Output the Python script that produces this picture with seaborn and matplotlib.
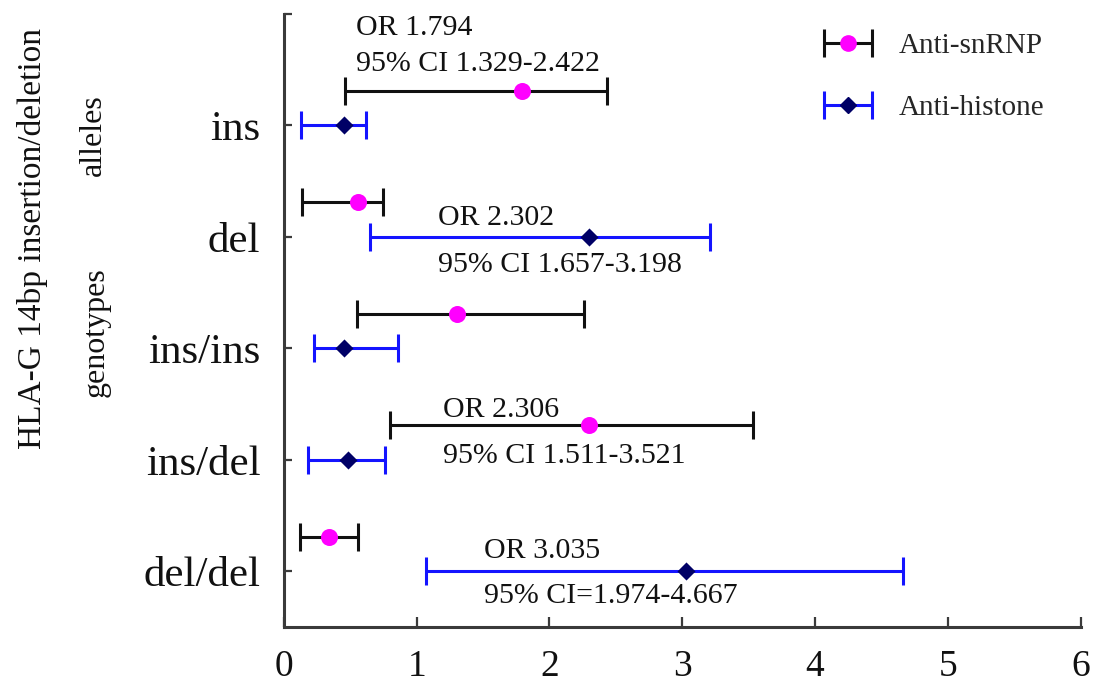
import matplotlib
matplotlib.use("Agg")
import matplotlib.pyplot as plt
import seaborn as sns
import pandas as pd
from matplotlib.lines import Line2D
from matplotlib.container import ErrorbarContainer
from matplotlib.legend_handler import HandlerTuple, HandlerErrorbar

# ---- data ----
categories = ["ins", "del", "ins/ins", "ins/del", "del/del"]
positions = [5, 4, 3, 2, 1]

snrnp_or = [1.79, 0.56, 1.30, 2.30, 0.34]
snrnp_lo = [0.46, 0.14, 0.55, 0.80, 0.12]
snrnp_hi = [2.43, 0.75, 2.26, 3.53, 0.56]

hist_or = [0.45, 2.30, 0.45, 0.48, 3.03]
hist_lo = [0.13, 0.65, 0.23, 0.18, 1.07]
hist_hi = [0.62, 3.21, 0.86, 0.76, 4.66]

series_names = ["Anti-snRNP", "Anti-histone"]
x_ticks = [0, 1, 2, 3, 4, 5, 6]

annotations = [
    ("OR 1.794", 0.54, 5.875),
    ("95% CI 1.329-2.422", 0.54, 5.55),
    ("OR 2.302", 1.16, 4.17),
    ("95% CI 1.657-3.198", 1.16, 3.75),
    ("OR 2.306", 1.20, 2.45),
    ("95% CI 1.511-3.521", 1.20, 2.03),
    ("OR 3.035", 1.51, 1.18),
    ("95% CI=1.974-4.667", 1.51, 0.78),
]

offset_snrnp = 0.31  # vertical offset of the snRNP row above the category tick

# ---- style ----
sns.set_theme(style="ticks")
plt.rcParams["font.family"] = ["Liberation Serif", "DejaVu Serif"]

fig = plt.figure(figsize=(10.96, 6.86), dpi=100)
ax = fig.add_axes([0.259, 0.086, 0.727, 0.8936])

y_snrnp = [p + offset_snrnp for p in positions]
y_hist = positions

df = pd.DataFrame({
    "x": snrnp_or + hist_or,
    "y": y_snrnp + y_hist,
    "series": [series_names[0]] * 5 + [series_names[1]] * 5,
})

# error bars
eb1 = ax.errorbar(snrnp_or, y_snrnp,
                  xerr=[[o - l for o, l in zip(snrnp_or, snrnp_lo)],
                        [h - o for o, h in zip(snrnp_or, snrnp_hi)]],
                  fmt="none", ecolor="#111111", elinewidth=2.2, capsize=10,
                  capthick=2.2, zorder=2)
eb2 = ax.errorbar(hist_or, y_hist,
                  xerr=[[o - l for o, l in zip(hist_or, hist_lo)],
                        [h - o for o, h in zip(hist_or, hist_hi)]],
                  fmt="none", ecolor="#1414ff", elinewidth=2.2, capsize=10,
                  capthick=2.2, zorder=2)

# point markers via seaborn
sns.scatterplot(data=df[df.series == series_names[0]], x="x", y="y",
                color="#ff00ff", marker="o", s=150, linewidth=0,
                legend=False, ax=ax, zorder=3)
sns.scatterplot(data=df[df.series == series_names[1]], x="x", y="y",
                color="#000066", marker="D", s=85, linewidth=0,
                legend=False, ax=ax, zorder=3)

# annotations
for txt, x, y in annotations:
    ax.text(x, y, txt, fontsize=21.5, ha="left", va="center", color="#111111")

# axes
ax.set_xlim(0, 6)
ax.set_ylim(0.5, 6.0)
ax.set_xticks(x_ticks)
ax.set_xticklabels([str(t) for t in x_ticks], fontsize=27)
ax.set_yticks(positions + [6])
ax.set_yticklabels(categories + [""], fontsize=31)
ax.set_xlabel("")
ax.set_ylabel("")
sns.despine(ax=ax)
for s in ["left", "bottom"]:
    ax.spines[s].set_linewidth(2.2)
    ax.spines[s].set_color("#3a3a3a")
ax.tick_params(axis="x", direction="in", length=7, width=1.6, color="#3a3a3a",
               pad=16, labelcolor="#111111")
ax.tick_params(axis="y", direction="in", length=6, width=1.6, color="#3a3a3a",
               pad=17, labelcolor="#111111")

# y-axis labels
fig.text(0.030, 0.652, "HLA-G 14bp insertion/deletion", rotation=90,
         fontsize=24, ha="center", va="center", color="#111111")
fig.text(0.085, 0.803, "alleles", rotation=90, fontsize=23,
         ha="center", va="center", color="#111111")
fig.text(0.088, 0.516, "genotypes", rotation=90, fontsize=23,
         ha="center", va="center", color="#111111")

# legend
h1 = (eb1, Line2D([], [], ls="none", marker="o", color="#ff00ff", markersize=11))
h2 = (eb2, Line2D([], [], ls="none", marker="D", color="#000066", markersize=8))
leg = fig.legend([h1, h2], series_names,
                 handler_map={tuple: HandlerTuple(ndivide=1),
                              ErrorbarContainer: HandlerErrorbar(xerr_size=0.82)},
                 loc="upper left", bbox_to_anchor=(0.751, 0.952),
                 bbox_transform=fig.transFigure, frameon=False,
                 fontsize=21, handlelength=1.7, handletextpad=0.9,
                 labelspacing=1.2, borderpad=0, borderaxespad=0)

fig.savefig("out.png", dpi=100)
